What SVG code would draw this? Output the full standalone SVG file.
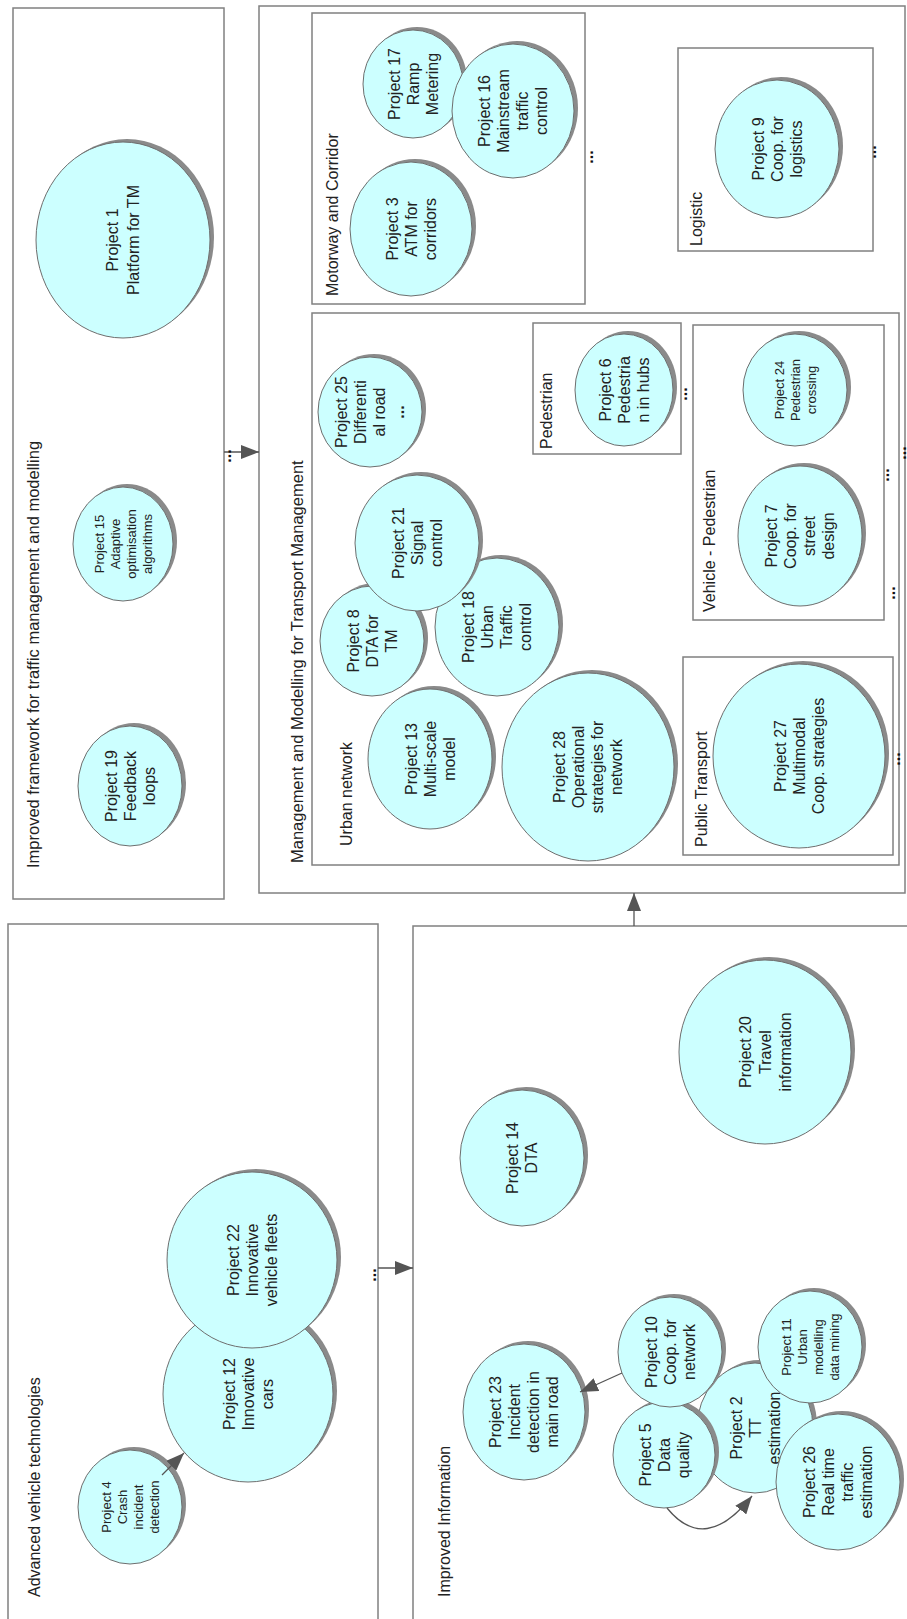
<svg xmlns="http://www.w3.org/2000/svg" width="907" height="1619" viewBox="0 0 907 1619">
<defs>
<style>
.box{fill:none;stroke:#808080;stroke-width:1.5}
.sh{fill:#8a8a8a}
.n{fill:#ccffff;stroke:#6e6e6e;stroke-width:1}
.t{font-family:"Liberation Sans",Arial,sans-serif;font-size:16px;fill:#222;text-anchor:middle}
.ts{font-family:"Liberation Sans",Arial,sans-serif;font-size:13px;fill:#222;text-anchor:middle}
.lb{font-family:"Liberation Sans",Arial,sans-serif;font-size:16px;fill:#222}
.lbb{font-family:"Liberation Sans",Arial,sans-serif;font-size:16.5px;fill:#222}
.dots{font-family:"Liberation Sans",Arial,sans-serif;font-size:16px;font-weight:bold;fill:#111;text-anchor:middle}
.c{fill:none;stroke:#555;stroke-width:1.3}
</style>
<marker id="ah" viewBox="0 0 18 14" refX="18" refY="7" markerWidth="18" markerHeight="14" markerUnits="userSpaceOnUse" orient="auto">
<path d="M0,0 L18,7 L0,14 z" fill="#555"/>
</marker>
</defs>
<rect width="907" height="1619" fill="#fff"/>

<g id="box-framework">
<rect class="box" x="13" y="8" width="211" height="891"/>
<text class="lbb" transform="rotate(-90 39 868)" x="39" y="868">Improved framework for traffic management and modelling</text>
</g>
<g id="box-management">
<rect class="box" x="259" y="6" width="646" height="887"/>
<text class="lbb" transform="rotate(-90 303 863)" x="303" y="863">Management and Modelling for Transport Management</text>
</g>
<g id="box-motorway">
<rect class="box" x="312" y="13" width="273" height="291"/>
<text class="lb" transform="rotate(-90 338 296)" x="338" y="296">Motorway and Corridor</text>
</g>
<g id="box-logistic">
<rect class="box" x="678" y="48" width="195" height="203"/>
<text class="lb" transform="rotate(-90 702 246)" x="702" y="246">Logistic</text>
</g>
<g id="box-urban">
<rect class="box" x="312" y="313" width="587" height="552"/>
<text class="lb" transform="rotate(-90 352 846)" x="352" y="846">Urban network</text>
</g>
<g id="box-pedestrian">
<rect class="box" x="533" y="323" width="148" height="131"/>
<text class="lb" transform="rotate(-90 552 449)" x="552" y="449">Pedestrian</text>
</g>
<g id="box-vehped">
<rect class="box" x="693" y="325" width="191" height="295"/>
<text class="lb" transform="rotate(-90 715 612)" x="715" y="612">Vehicle - Pedestrian</text>
</g>
<g id="box-pt">
<rect class="box" x="683" y="657" width="210" height="198"/>
<text class="lb" transform="rotate(-90 707 847)" x="707" y="847">Public Transport</text>
</g>
<g id="box-vehicle">
<rect class="box" x="8" y="924" width="370" height="710"/>
<text class="lb" transform="rotate(-90 40 1597)" x="40" y="1597">Advanced vehicle technologies</text>
</g>
<g id="box-info">
<rect class="box" x="413" y="926" width="510" height="710"/>
<text class="lb" transform="rotate(-90 450 1597)" x="450" y="1597">Improved Information</text>
</g>

<g id="p1"><ellipse class="sh" cx="127" cy="237" rx="87" ry="98"/><ellipse class="n" cx="123" cy="240" rx="87" ry="98"/>
<text class="t" transform="rotate(-90 123 240)" x="123" y="235"><tspan x="123">Project 1</tspan><tspan x="123" dy="21">Platform for TM</tspan></text></g>
<g id="p15"><ellipse class="sh" cx="127" cy="541" rx="50" ry="57"/><ellipse class="n" cx="123" cy="544" rx="50" ry="57"/>
<text class="ts" transform="rotate(-90 123 544)" x="123" y="524.5"><tspan x="123">Project 15</tspan><tspan x="123" dy="16">Adaptive</tspan><tspan x="123" dy="16">optimisation</tspan><tspan x="123" dy="16">algorithms</tspan></text></g>
<g id="p19"><ellipse class="sh" cx="134" cy="783" rx="52" ry="60"/><ellipse class="n" cx="130" cy="786" rx="52" ry="60"/>
<text class="t" transform="rotate(-90 130 786)" x="130" y="772.6"><tspan x="130">Project 19</tspan><tspan x="130" dy="19">Feedback</tspan><tspan x="130" dy="19">loops</tspan></text></g>

<g id="p17"><ellipse class="sh" cx="417" cy="81" rx="50" ry="54"/><ellipse class="n" cx="413" cy="84" rx="50" ry="54"/>
<text class="t" transform="rotate(-90 413 84)" x="413" y="70.6"><tspan x="413">Project 17</tspan><tspan x="413" dy="19">Ramp</tspan><tspan x="413" dy="19">Metering</tspan></text></g>
<g id="p16"><ellipse class="sh" cx="517" cy="108" rx="61" ry="67"/><ellipse class="n" cx="513" cy="111" rx="61" ry="67"/>
<text class="t" transform="rotate(-90 513 111)" x="513" y="88.1"><tspan x="513">Project 16</tspan><tspan x="513" dy="19">Mainstream</tspan><tspan x="513" dy="19">traffic</tspan><tspan x="513" dy="19">control</tspan></text></g>
<g id="p3"><ellipse class="sh" cx="415" cy="226" rx="61" ry="67"/><ellipse class="n" cx="411" cy="229" rx="61" ry="67"/>
<text class="t" transform="rotate(-90 411 229)" x="411" y="215.6"><tspan x="411">Project 3</tspan><tspan x="411" dy="19">ATM for</tspan><tspan x="411" dy="19">corridors</tspan></text></g>
<g id="p9"><ellipse class="sh" cx="781" cy="146" rx="62" ry="69"/><ellipse class="n" cx="777" cy="149" rx="62" ry="69"/>
<text class="t" transform="rotate(-90 777 149)" x="777" y="135.6"><tspan x="777">Project 9</tspan><tspan x="777" dy="19">Coop. for</tspan><tspan x="777" dy="19">logistics</tspan></text></g>

<g id="p25"><ellipse class="sh" cx="374" cy="409" rx="52" ry="55"/><ellipse class="n" cx="370" cy="412" rx="52" ry="55"/>
<text class="t" transform="rotate(-90 370 412)" x="370" y="389.1"><tspan x="370">Project 25</tspan><tspan x="370" dy="19">Differenti</tspan><tspan x="370" dy="19">al road</tspan><tspan x="370" dy="19" font-weight="bold">...</tspan></text></g>
<g id="p8"><ellipse class="sh" cx="376" cy="638" rx="52" ry="55"/><ellipse class="n" cx="372" cy="641" rx="52" ry="55"/>
<text class="t" transform="rotate(-90 372 641)" x="372" y="627.6"><tspan x="372">Project 8</tspan><tspan x="372" dy="19">DTA for</tspan><tspan x="372" dy="19">TM</tspan></text></g>
<g id="p18"><ellipse class="sh" cx="501" cy="624" rx="62" ry="69"/><ellipse class="n" cx="497" cy="627" rx="62" ry="69"/>
<text class="t" transform="rotate(-90 497 627)" x="497" y="604.1"><tspan x="497">Project 18</tspan><tspan x="497" dy="19">Urban</tspan><tspan x="497" dy="19">Traffic</tspan><tspan x="497" dy="19">control</tspan></text></g>
<g id="p21"><ellipse class="sh" cx="421" cy="540" rx="62" ry="68"/><ellipse class="n" cx="417" cy="543" rx="62" ry="68"/>
<text class="t" transform="rotate(-90 417 543)" x="417" y="529.6"><tspan x="417">Project 21</tspan><tspan x="417" dy="19">Signal</tspan><tspan x="417" dy="19">control</tspan></text></g>
<g id="p13"><ellipse class="sh" cx="434" cy="756" rx="62" ry="70"/><ellipse class="n" cx="430" cy="759" rx="62" ry="70"/>
<text class="t" transform="rotate(-90 430 759)" x="430" y="745.6"><tspan x="430">Project 13</tspan><tspan x="430" dy="19">Multi-scale</tspan><tspan x="430" dy="19">model</tspan></text></g>
<g id="p28"><ellipse class="sh" cx="592" cy="764" rx="86" ry="94"/><ellipse class="n" cx="588" cy="767" rx="86" ry="94"/>
<text class="t" transform="rotate(-90 588 767)" x="588" y="744.1"><tspan x="588">Project 28</tspan><tspan x="588" dy="19">Operational</tspan><tspan x="588" dy="19">strategies for</tspan><tspan x="588" dy="19">network</tspan></text></g>
<g id="p6"><ellipse class="sh" cx="628" cy="387" rx="49" ry="56"/><ellipse class="n" cx="624" cy="390" rx="49" ry="56"/>
<text class="t" transform="rotate(-90 624 390)" x="624" y="376.6"><tspan x="624">Project 6</tspan><tspan x="624" dy="19">Pedestria</tspan><tspan x="624" dy="19">n in hubs</tspan></text></g>
<g id="p24"><ellipse class="sh" cx="799" cy="387" rx="52" ry="56"/><ellipse class="n" cx="795" cy="390" rx="52" ry="56"/>
<text class="ts" transform="rotate(-90 795 390)" x="795" y="378.5"><tspan x="795">Project 24</tspan><tspan x="795" dy="16">Pedestrian</tspan><tspan x="795" dy="16">crossing</tspan></text></g>
<g id="p7"><ellipse class="sh" cx="804" cy="533" rx="62" ry="70"/><ellipse class="n" cx="800" cy="536" rx="62" ry="70"/>
<text class="t" transform="rotate(-90 800 536)" x="800" y="513.1"><tspan x="800">Project 7</tspan><tspan x="800" dy="19">Coop. for</tspan><tspan x="800" dy="19">street</tspan><tspan x="800" dy="19">design</tspan></text></g>
<g id="p27"><ellipse class="sh" cx="803" cy="753" rx="86" ry="92"/><ellipse class="n" cx="799" cy="756" rx="86" ry="92"/>
<text class="t" transform="rotate(-90 799 756)" x="799" y="742.6"><tspan x="799">Project 27</tspan><tspan x="799" dy="19">Multimodal</tspan><tspan x="799" dy="19">Coop. strategies</tspan></text></g>

<g id="p12"><ellipse class="sh" cx="252" cy="1391" rx="85" ry="88"/><ellipse class="n" cx="248" cy="1394" rx="85" ry="88"/>
<text class="t" transform="rotate(-90 248 1394)" x="248" y="1380.6"><tspan x="248">Project 12</tspan><tspan x="248" dy="19">Innovative</tspan><tspan x="248" dy="19">cars</tspan></text></g>
<g id="p22"><ellipse class="sh" cx="256" cy="1257" rx="85" ry="88"/><ellipse class="n" cx="252" cy="1260" rx="85" ry="88"/>
<text class="t" transform="rotate(-90 252 1260)" x="252" y="1246.6"><tspan x="252">Project 22</tspan><tspan x="252" dy="19">Innovative</tspan><tspan x="252" dy="19">vehicle fleets</tspan></text></g>
<g id="p4"><ellipse class="sh" cx="134" cy="1504" rx="52" ry="57"/><ellipse class="n" cx="130" cy="1507" rx="52" ry="57"/>
<text class="ts" transform="rotate(-90 130 1507)" x="130" y="1487.5"><tspan x="130">Project 4</tspan><tspan x="130" dy="16">Crash</tspan><tspan x="130" dy="16">incident</tspan><tspan x="130" dy="16">detection</tspan></text></g>

<g id="p14"><ellipse class="sh" cx="526" cy="1155" rx="62" ry="68"/><ellipse class="n" cx="522" cy="1158" rx="62" ry="68"/>
<text class="t" transform="rotate(-90 522 1158)" x="522" y="1154.1"><tspan x="522">Project 14</tspan><tspan x="522" dy="19">DTA</tspan></text></g>
<g id="p20"><ellipse class="sh" cx="769" cy="1049" rx="86" ry="92"/><ellipse class="n" cx="765" cy="1052" rx="86" ry="92"/>
<text class="t" transform="rotate(-90 765 1052)" x="765" y="1037.6"><tspan x="765">Project 20</tspan><tspan x="765" dy="20">Travel</tspan><tspan x="765" dy="20">information</tspan></text></g>
<g id="p23"><ellipse class="sh" cx="528" cy="1409" rx="61" ry="68"/><ellipse class="n" cx="524" cy="1412" rx="61" ry="68"/>
<text class="t" transform="rotate(-90 524 1412)" x="524" y="1389.1"><tspan x="524">Project 23</tspan><tspan x="524" dy="19">Incident</tspan><tspan x="524" dy="19">detection in</tspan><tspan x="524" dy="19">main road</tspan></text></g>
<g id="p2"><ellipse class="sh" cx="759" cy="1425" rx="58" ry="65"/><ellipse class="n" cx="755" cy="1428" rx="58" ry="65"/>
<text class="t" transform="rotate(-90 755 1428)" x="755" y="1414.6"><tspan x="755">Project 2</tspan><tspan x="755" dy="19">TT</tspan><tspan x="755" dy="19">estimation</tspan></text></g>
<g id="p5"><ellipse class="sh" cx="668" cy="1452" rx="51" ry="53"/><ellipse class="n" cx="664" cy="1455" rx="51" ry="53"/>
<text class="t" transform="rotate(-90 664 1455)" x="664" y="1441.6"><tspan x="664">Project 5</tspan><tspan x="664" dy="19">Data</tspan><tspan x="664" dy="19">quality</tspan></text></g>
<g id="p10"><ellipse class="sh" cx="674" cy="1349" rx="52" ry="55"/><ellipse class="n" cx="670" cy="1352" rx="52" ry="55"/>
<text class="t" transform="rotate(-90 670 1352)" x="670" y="1338.6"><tspan x="670">Project 10</tspan><tspan x="670" dy="19">Coop. for</tspan><tspan x="670" dy="19">network</tspan></text></g>
<g id="p11"><ellipse class="sh" cx="814" cy="1344" rx="52" ry="56"/><ellipse class="n" cx="810" cy="1347" rx="52" ry="56"/>
<text class="ts" transform="rotate(-90 810 1347)" x="810" y="1327.5"><tspan x="810">Project 11</tspan><tspan x="810" dy="16">Urban</tspan><tspan x="810" dy="16">modelling</tspan><tspan x="810" dy="16">data mining</tspan></text></g>
<g id="p26"><ellipse class="sh" cx="842" cy="1479" rx="62" ry="68"/><ellipse class="n" cx="838" cy="1482" rx="62" ry="68"/>
<text class="t" transform="rotate(-90 838 1482)" x="838" y="1459.1"><tspan x="838">Project 26</tspan><tspan x="838" dy="19">Real time</tspan><tspan x="838" dy="19">traffic</tspan><tspan x="838" dy="19">estimation</tspan></text></g>

<g id="connectors">
<line class="c" x1="224" y1="452" x2="259" y2="452" marker-end="url(#ah)"/>
<line class="c" x1="378" y1="1268" x2="413" y2="1268" marker-end="url(#ah)"/>
<line class="c" x1="634" y1="926" x2="634" y2="893" marker-end="url(#ah)"/>
<line class="c" x1="162" y1="1475" x2="184" y2="1453" marker-end="url(#ah)"/>
<line class="c" x1="622" y1="1373" x2="580" y2="1392" marker-end="url(#ah)"/>
<path class="c" d="M667,1508 Q705,1555 752,1496" marker-end="url(#ah)"/>
<g class="dots">
<text transform="rotate(-90 231 456)" x="231" y="456">...</text>
<text transform="rotate(-90 376 1275)" x="376" y="1275">...</text>
<text transform="rotate(-90 593 157)" x="593" y="157">...</text>
<text transform="rotate(-90 876 152)" x="876" y="152">...</text>
<text transform="rotate(-90 687 394)" x="687" y="394">...</text>
<text transform="rotate(-90 889 475)" x="889" y="475">...</text>
<text transform="rotate(-90 895 593)" x="895" y="593">...</text>
<text transform="rotate(-90 906 453)" x="906" y="453">...</text>
<text transform="rotate(-90 900 759)" x="900" y="759">...</text>
</g>
</g>
</svg>
